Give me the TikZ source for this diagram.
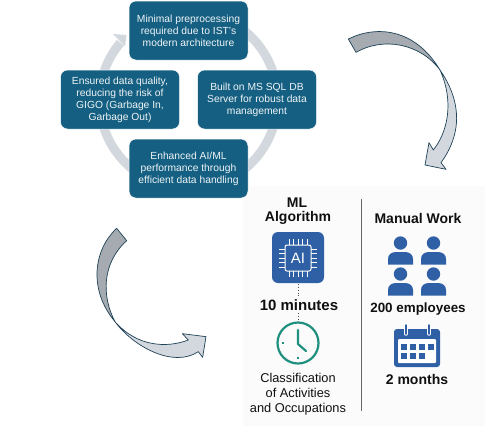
\documentclass[tikz,border=0pt]{standalone}
\usepackage{fontspec}
\setmainfont{Liberation Sans}
\usetikzlibrary{calc}
\definecolor{boxteal}{HTML}{156082}
\definecolor{ringgray}{HTML}{D3D8DF}
\definecolor{arrdark}{HTML}{A5ABB0}
\definecolor{arredge}{HTML}{1F4257}
\definecolor{iconblue}{HTML}{2F60A5}
\definecolor{clockteal}{HTML}{1F9080}
\definecolor{txt}{HTML}{101010}
\tikzset{
  x=1pt,y=-1pt,
  cyclebox/.style={draw=white,line width=0.5pt,fill=boxteal,rounded corners=7pt,text=white!93!boxteal,
    minimum width=119pt,minimum height=59pt,align=center,inner sep=0pt,
    font=\fontsize{10.3}{11.9}\selectfont},
  headtxt/.style={text=txt,inner sep=0pt,font=\fontsize{14}{15}\selectfont\bfseries},
  midtxt/.style={text=txt,inner sep=0pt,font=\fontsize{14}{15}\selectfont\bfseries},
  smalltxt/.style={text=txt,inner sep=0pt,align=center,font=\fontsize{12.8}{15}\selectfont},
  lightarrow/.style={fill=ringgray,draw=arredge,line width=0.7pt,line join=round},
  darkarrow/.style={fill=arrdark,draw=arredge,line width=0.7pt,line join=round},
  dotline/.style={draw=black!70,line width=1pt,dash pattern=on 1.2pt off 1.6pt},
}
\begin{document}
\begin{tikzpicture}
\useasboundingbox (0,0) rectangle (485,432);
\fill[white] (0,0) rectangle (485,432);
\fill[black!1.5] (243,186) rectangle (485,426);
% ring
\draw[ringgray,line width=9pt] (188.5,100) ++(-140:89) arc[start angle=-140,end angle=-480,radius=89];
\fill[ringgray] (113,34) -- (126.5,35) -- (125,46.5) -- cycle;
% boxes
\node[cyclebox] (top) at (188.5,30.5) {Minimal preprocessing\\required due to IST’s\\modern architecture};
\node[cyclebox] (left) at (120,99.5) {Ensured data quality,\\reducing the risk of\\GIGO (Garbage In,\\Garbage Out)};
\node[cyclebox] (right) at (257,99.5) {Built on MS SQL DB\\Server for robust data\\management};
\node[cyclebox] (bottom) at (188.5,168.5) {Enhanced AI/ML\\performance through\\efficient data handling};
% right curved arrow
\begin{scope}[shift={(340,0)},x=0.3333pt,y=-0.3333pt]
\path[lightarrow] (300,210) .. controls (345,275) and (365,350) .. (337,425) .. controls (328,450) and (316,470) .. (303,488) -- (318,508) -- (255,495) -- (267,428) -- (280,450) .. controls (320,400) and (345,310) .. (300,210) -- cycle;
\path[darkarrow] (25,117) .. controls (110,75) and (225,85) .. (300,210) .. controls (240,130) and (130,110) .. (48,157) -- cycle;
\end{scope}
% left curved arrow
\begin{scope}[shift={(60,200)},x=0.3333pt,y=-0.3333pt]
\path[lightarrow] (165,365) .. controls (220,440) and (340,505) .. (415,455) -- (428,472) -- (438,410) -- (367,401) -- (385,420) .. controls (320,445) and (230,440) .. (165,365) -- cycle;
\path[darkarrow] (170,85) .. controls (100,150) and (85,270) .. (165,365) .. controls (125,290) and (125,190) .. (200,122) -- cycle;
\end{scope}
% panel
\draw[black!60,line width=0.9pt] (361,199) -- (361,411);
\node[headtxt] (ml) at (297,203) {ML};
\node[headtxt] (algo) at (298,218) {Algorithm};
\node[headtxt] (manual) at (418,218) {Manual Work};
% AI icon
\node[fill=iconblue,rounded corners=6pt,minimum width=52pt,minimum height=51pt,inner sep=0pt] (ai) at (298,257.5) {};
\draw[white,line width=1pt,rounded corners=2pt] (285,245) rectangle (311,271);
\foreach \d in {-9,-4.5,0,4.5,9}{
  \draw[white,line width=0.8pt] (298+\d,239) -- (298+\d,245) (298+\d,271) -- (298+\d,277);
  \draw[white,line width=0.8pt] (279,258+\d) -- (285,258+\d) (311,258+\d) -- (317,258+\d);
}
\node[text=white,inner sep=0pt,font=\fontsize{15}{15}\selectfont] (aitext) at (298,258) {AI};
\node[midtxt,font=\fontsize{15}{15}\selectfont\bfseries] (mins) at (299,305) {10 minutes};
% clock
\node[draw=clockteal,line width=2.2pt,circle,minimum size=41pt,inner sep=0pt] (clock) at (298,343) {};
\draw[clockteal,line width=2.2pt,line cap=round,line join=round] (298,330) -- (298,344) -- (306,351);
\draw[clockteal,line width=1.4pt] (282,343) -- (284,343) (298,357) -- (298,359);
\draw[dotline] (ai.south) ++(0,1) -- (298,296);
\draw[dotline] (298,313) -- (clock.north);
\node[smalltxt] (cls) at (298,394) {Classification\\of Activities\\and Occupations};
% people
\foreach \px/\py in {388/252,421/252,388/283,421/283}{
  \begin{scope}[shift={(\px,\py)}]
  \fill[iconblue] (12.5,-9) circle[radius=6.7];
  \fill[iconblue] (0,12.5) -- (0,7) .. controls (0,3) and (3,0) .. (8,0) -- (17,0) .. controls (22,0) and (25,3) .. (25,7) -- (25,12.5) -- cycle;
  \end{scope}
}
\node[midtxt,font=\fontsize{13.4}{15}\selectfont\bfseries] (emp) at (418,309) {200 employees};
% calendar
\fill[iconblue,rounded corners=3pt] (394,329) rectangle (440,367);
\fill[white,rounded corners=1pt] (398,339) rectangle (436,363);
\foreach \cx in {406,429}{
  \draw[white,line width=3.4pt,line cap=round] (\cx,325) -- (\cx,334);
  \draw[iconblue,line width=1.8pt,line cap=round] (\cx,325) -- (\cx,334);
}
\foreach \cx in {401,410,419,428}{\fill[iconblue] (\cx,344) rectangle +(5.5,5.5);}
\foreach \cx in {401,410,419}{\fill[iconblue] (\cx,353) rectangle +(5.5,5.5);}
\node[midtxt] (months) at (417,379) {2 months};
\end{tikzpicture}
\end{document}
